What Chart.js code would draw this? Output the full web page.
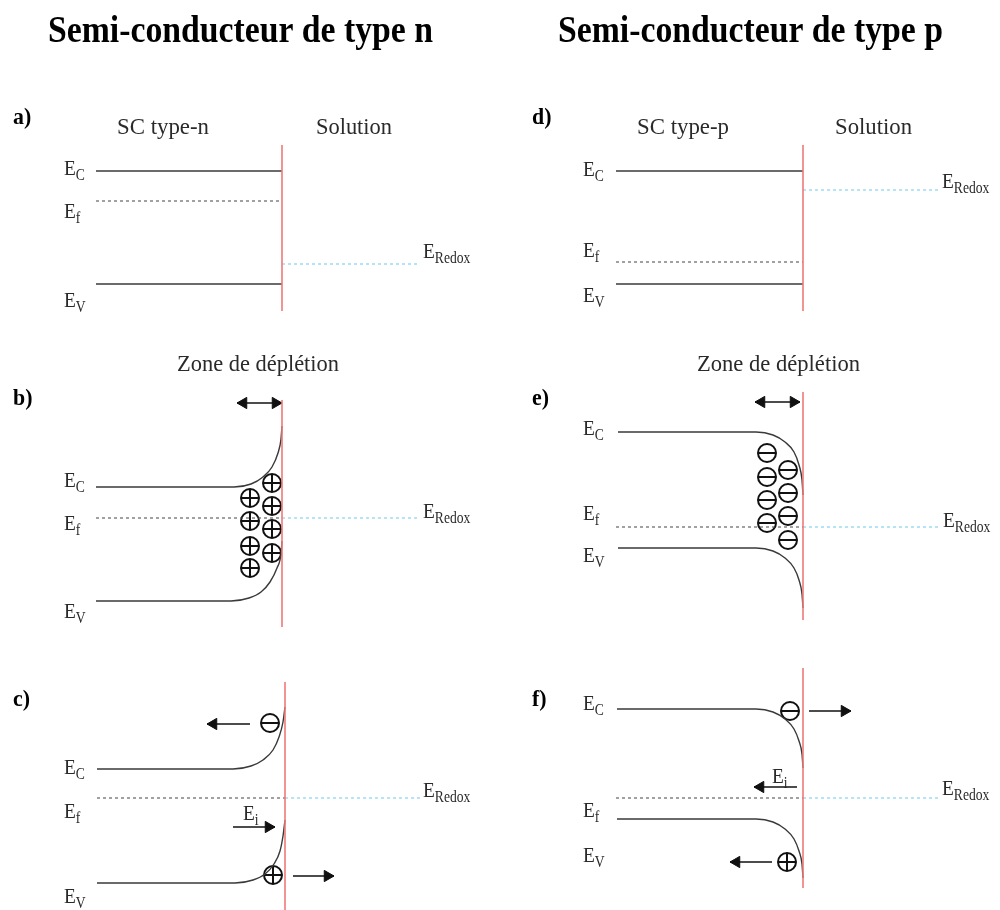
<!DOCTYPE html>
<html>
<head>
<meta charset="utf-8">
<script src="https://cdn.jsdelivr.net/npm/chart.js@4.4.1/dist/chart.umd.min.js"></script>
<style>
  html, body { margin: 0; padding: 0; background: #fff; }
  #wrap { width: 1000px; height: 910px; }
</style>
</head>
<body>
<div id="wrap"><canvas id="c" width="1000" height="910"></canvas></div>
<script>
// Diagrammes de bandes : coordonnées (x vers la droite, y vers le bas)

// a) SC type-n à l'équilibre initial
const aEc = [[96, 171], [282, 171]];
const aEf = [[96, 201], [282, 201]];
const aEv = [[96, 284], [282, 284]];
const aRedox = [[282, 264], [420, 264]];
const aIface = [[282, 145], [282, 311]];

// d) SC type-p
const dEc = [[616, 171], [803, 171]];
const dEf = [[616, 262], [803, 262]];
const dEv = [[616, 284], [803, 284]];
const dRedox = [[803, 190], [940, 190]];
const dIface = [[803, 145], [803, 311]];

// b) n : courbure vers le haut
const bEc = [[96, 487], [234, 487], [251, 484], [263, 477], [272, 467], [278, 453], [281, 439], [282, 426]];
const bEf = [[96, 518], [282, 518]];
const bEv = [[96, 601], [231, 601], [249, 598], [261, 592], [270, 582], [277, 568], [281, 554], [282, 541]];
const bRedox = [[282, 518], [420, 518]];
const bIface = [[282, 400], [282, 627]];
const bZone = [[237, 403], [282, 403]];
const bPlus = [[250, 498], [250, 521], [250, 546], [250, 568], [272, 483], [272, 506], [272, 529], [272, 553]];

// e) p : courbure vers le bas
const eEc = [[618, 432], [756, 432], [773, 435], [785, 442], [794, 452], [799, 465], [802, 480], [803, 495]];
const eEf = [[616, 527], [803, 527]];
const eEv = [[618, 548], [756, 548], [773, 551], [785, 558], [794, 568], [799, 580], [802, 594], [803, 608]];
const eRedox = [[803, 527], [940, 527]];
const eIface = [[803, 392], [803, 620]];
const eZone = [[755, 402], [800, 402]];
const eMinus = [[767, 453], [767, 477], [767, 500], [767, 523], [788, 470], [788, 493], [788, 516], [788, 540]];

// c) n sous éclairement
const cEc = [[97, 769], [233, 769], [251, 766], [263, 760], [273, 750], [279, 737], [283, 722], [285, 707]];
const cEf = [[97, 798], [285, 798]];
const cEv = [[97, 883], [235, 883], [253, 880], [265, 874], [274, 864], [280, 851], [283, 836], [285, 820]];
const cRedox = [[285, 798], [420, 798]];
const cIface = [[285, 682], [285, 910]];
const cMinus = [[270, 723]];
const cPlus = [[273, 875]];
const cArrows = [[[250, 724], [207, 724]], [[233, 827], [275, 827]], [[293, 876], [334, 876]]];

// f) p sous éclairement
const fEc = [[617, 709], [756, 709], [773, 712], [785, 719], [794, 729], [799, 741], [802, 754], [803, 768]];
const fEf = [[616, 798], [803, 798]];
const fEv = [[617, 819], [756, 819], [773, 822], [785, 829], [794, 839], [799, 851], [802, 864], [803, 878]];
const fRedox = [[803, 798], [940, 798]];
const fIface = [[803, 668], [803, 888]];
const fMinus = [[790, 711]];
const fPlus = [[787, 862]];
const fArrows = [[[809, 711], [851, 711]], [[797, 787], [754, 787]], [[772, 862], [730, 862]]];

// textes
const titles = ["Semi-conducteur de type n", "Semi-conducteur de type p"];
const panelLetters = ["a)", "b)", "c)", "d)", "e)", "f)"];
const headers = ["SC type-n", "Solution", "SC type-p", "Solution"];
const zoneLabel = "Zone de déplétion";

const INK = "#3a3a3a";
const RED = "#f07a7a";
const CYAN = "#6cc9ee";
const HEAD = 6.5;

const pts = arr => arr.map(p => ({ x: p[0], y: p[1] }));

function band(arr) {
  return { data: pts(arr), showLine: true, borderColor: INK, borderWidth: 1.4, pointRadius: 0,
           cubicInterpolationMode: "monotone" };
}
function dashed(arr, color) {
  return { data: pts(arr), showLine: true, borderColor: color, borderWidth: 1.2,
           borderDash: [3, 3], pointRadius: 0 };
}
function iface(arr) {
  return { data: pts(arr), showLine: true, borderColor: RED, borderWidth: 1.6, pointRadius: 0 };
}
function charges(arr, sign) {
  const ring = { data: pts(arr), showLine: false, pointStyle: "circle", pointRadius: 9,
                 pointBorderWidth: 2, pointBorderColor: "#111", pointBackgroundColor: "rgba(0,0,0,0)" };
  const mark = { data: pts(arr), showLine: false, pointStyle: sign > 0 ? "cross" : "line",
                 pointRadius: 9, pointBorderWidth: 2, pointBorderColor: "#111" };
  return [ring, mark];
}
// flèche : segment + tête(s) triangulaire(s)
function arrow(seg, both) {
  const [s, t] = seg;
  const dir = Math.sign(t[0] - s[0]);
  const out = [{ data: pts(seg), showLine: true, borderColor: "#111", borderWidth: 1.4, pointRadius: 0 }];
  const heads = [{ x: t[0] - dir * HEAD, y: t[1], r: dir > 0 ? 90 : -90 }];
  if (both) heads.push({ x: s[0] + dir * HEAD, y: s[1], r: dir > 0 ? -90 : 90 });
  heads.forEach(h => out.push({
    data: [{ x: h.x, y: h.y }], showLine: false, pointStyle: "triangle", pointRadius: HEAD,
    pointRotation: h.r, pointBackgroundColor: "#111", pointBorderColor: "#111", pointBorderWidth: 1
  }));
  return out;
}

const datasets = [
  iface(aIface), band(aEc), dashed(aEf, "#444"), band(aEv), dashed(aRedox, CYAN),
  iface(dIface), band(dEc), dashed(dEf, "#444"), band(dEv), dashed(dRedox, CYAN),
  iface(bIface), band(bEc), dashed(bEf, "#444"), band(bEv), dashed(bRedox, CYAN),
  ...arrow(bZone, true), ...charges(bPlus, 1),
  iface(eIface), band(eEc), dashed(eEf, "#444"), band(eEv), dashed(eRedox, CYAN),
  ...arrow(eZone, true), ...charges(eMinus, -1),
  iface(cIface), band(cEc), dashed(cEf, "#444"), band(cEv), dashed(cRedox, CYAN),
  ...charges(cMinus, -1), ...charges(cPlus, 1), ...cArrows.flatMap(a => arrow(a, false)),
  iface(fIface), band(fEc), dashed(fEf, "#444"), band(fEv), dashed(fRedox, CYAN),
  ...charges(fMinus, -1), ...charges(fPlus, 1), ...fArrows.flatMap(a => arrow(a, false)),
];

const SERIF = '"Liberation Serif", "Times New Roman", serif';

function drawText(ctx, s, x, y, size, opts = {}) {
  ctx.save();
  ctx.font = (opts.bold ? "bold " : "") + size + "px " + SERIF;
  ctx.fillStyle = opts.color || "#2a2a2a";
  ctx.textBaseline = "alphabetic";
  let sx = opts.sx || 0.9;
  if (opts.width) sx = opts.width / ctx.measureText(s).width;
  ctx.translate(x, y);
  ctx.scale(sx, 1);
  ctx.fillText(s, 0, 0);
  const w = ctx.measureText(s).width * sx;
  ctx.restore();
  return w;
}
// E avec indice
function energy(ctx, sub, x, y) {
  const w = drawText(ctx, "E", x, y, 22, { sx: 0.88 });
  drawText(ctx, sub, x + w, y + 5, 16, { sx: 0.85 });
}

const labelPlugin = {
  id: "labels",
  afterDatasetsDraw(chart) {
    const ctx = chart.ctx;
    const X = v => chart.scales.x.getPixelForValue(v);
    const Y = v => chart.scales.y.getPixelForValue(v);

    drawText(ctx, titles[0], X(48), Y(42), 38, { bold: true, width: 385, color: "#000" });
    drawText(ctx, titles[1], X(558), Y(42), 38, { bold: true, width: 385, color: "#000" });

    const lp = [[13, 124], [13, 405], [13, 706], [532, 124], [532, 405], [532, 706]];
    panelLetters.forEach((s, i) => drawText(ctx, s, X(lp[i][0]), Y(lp[i][1]), 23, { bold: true, color: "#000", sx: 0.95 }));

    drawText(ctx, headers[0], X(117), Y(134), 24, { width: 92 });
    drawText(ctx, headers[1], X(316), Y(134), 24, { width: 76 });
    drawText(ctx, headers[2], X(637), Y(134), 24, { width: 92 });
    drawText(ctx, headers[3], X(835), Y(134), 24, { width: 77 });
    drawText(ctx, zoneLabel, X(177), Y(371), 24, { width: 162 });
    drawText(ctx, zoneLabel, X(697), Y(371), 24, { width: 163 });

    // a
    energy(ctx, "C", X(64), Y(175)); energy(ctx, "f", X(64), Y(218)); energy(ctx, "V", X(64), Y(307));
    energy(ctx, "Redox", X(423), Y(258));
    // d
    energy(ctx, "C", X(583), Y(176)); energy(ctx, "f", X(583), Y(257)); energy(ctx, "V", X(583), Y(302));
    energy(ctx, "Redox", X(942), Y(188));
    // b
    energy(ctx, "C", X(64), Y(487)); energy(ctx, "f", X(64), Y(530)); energy(ctx, "V", X(64), Y(618));
    energy(ctx, "Redox", X(423), Y(518));
    // e
    energy(ctx, "C", X(583), Y(435)); energy(ctx, "f", X(583), Y(520)); energy(ctx, "V", X(583), Y(562));
    energy(ctx, "Redox", X(943), Y(527));
    // c
    energy(ctx, "C", X(64), Y(774)); energy(ctx, "f", X(64), Y(818)); energy(ctx, "V", X(64), Y(903));
    energy(ctx, "Redox", X(423), Y(797)); energy(ctx, "i", X(243), Y(820));
    // f
    energy(ctx, "C", X(583), Y(710)); energy(ctx, "f", X(583), Y(817)); energy(ctx, "V", X(583), Y(862));
    energy(ctx, "Redox", X(942), Y(795)); energy(ctx, "i", X(772), Y(783));
  }
};

new Chart(document.getElementById("c"), {
  type: "scatter",
  data: { datasets },
  options: {
    responsive: false,
    animation: false,
    events: [],
    layout: { padding: 0, autoPadding: false },
    plugins: { legend: { display: false }, tooltip: { enabled: false } },
    scales: {
      x: { type: "linear", min: 0, max: 1000, display: false },
      y: { type: "linear", min: 0, max: 910, reverse: true, display: false }
    },
    elements: { line: { fill: false } }
  },
  plugins: [labelPlugin]
});
</script>
</body>
</html>
